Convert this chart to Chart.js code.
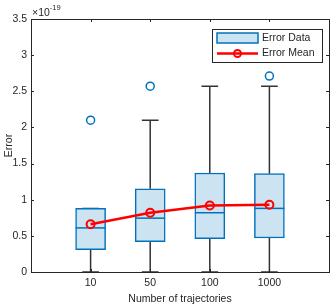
<!DOCTYPE html>
<html>
<head>
<meta charset="utf-8">
<script src="https://cdn.jsdelivr.net/npm/chart.js@4.4.0/dist/chart.umd.min.js"></script>
<style>
  html, body { margin: 0; padding: 0; background: #fff; }
  #wrap { width: 335px; height: 305px; }
</style>
</head>
<body>
<div id="wrap"><canvas id="boxchart"></canvas></div>
<script>
// values in units of 1e-19
var categories = ['10', '50', '100', '1000'];
var q1 = [0.31, 0.42, 0.46, 0.47];
var q3 = [0.88, 1.15, 1.37, 1.36];
var medians = [0.61, 0.745, 0.82, 0.88];
var whiskerLow = [0, 0, 0, 0];
var whiskerHigh = [0.88, 2.10, 2.57, 2.57];
var means = [0.66, 0.82, 0.92, 0.93];
var outliers = [[2.10], [2.57], [], [2.71]];
var yTicks = [0, 0.5, 1, 1.5, 2, 2.5, 3, 3.5];

var FONT = '"Liberation Sans", Arial, Helvetica, sans-serif';
var FS = 10.5;
var AXIS = '#262626';
var BLUE = '#0072BD';
var BOXFILL = '#cce3f2';

var boxData = categories.map(function (c, i) { return { x: i + 1, y: [q1[i], q3[i]] }; });
var meanData = categories.map(function (c, i) { return { x: i + 1, y: means[i] }; });
var outlierData = [];
outliers.forEach(function (list, i) {
    list.forEach(function (v) { outlierData.push({ x: i + 1, y: v }); });
});

// whiskers (under the boxes), medians (over), axes box, ticks, legend
var boxPlugin = {
    id: 'boxPlugin',
    beforeDatasetDraw: function (chart, args) {
        if (args.index !== 0) return;
        var ctx = chart.ctx, xs = chart.scales.x, ys = chart.scales.y, a = chart.chartArea;
        ctx.save();
        ctx.beginPath();
        ctx.rect(a.left, a.top, a.right - a.left, a.bottom - a.top);
        ctx.clip();
        ctx.strokeStyle = '#333333';
        ctx.lineWidth = 1.5;
        for (var i = 0; i < categories.length; i++) {
            var x = xs.getPixelForValue(i + 1);
            var capL = xs.getPixelForValue(i + 1 - 0.14), capR = xs.getPixelForValue(i + 1 + 0.14);
            ctx.beginPath();
            ctx.moveTo(x, ys.getPixelForValue(q3[i]));
            ctx.lineTo(x, ys.getPixelForValue(whiskerHigh[i]));
            ctx.moveTo(x, ys.getPixelForValue(q1[i]));
            ctx.lineTo(x, ys.getPixelForValue(whiskerLow[i]));
            ctx.moveTo(capL, ys.getPixelForValue(whiskerHigh[i]));
            ctx.lineTo(capR, ys.getPixelForValue(whiskerHigh[i]));
            ctx.moveTo(capL, ys.getPixelForValue(whiskerLow[i]));
            ctx.lineTo(capR, ys.getPixelForValue(whiskerLow[i]));
            ctx.stroke();
        }
        ctx.restore();
    },
    afterDatasetDraw: function (chart, args) {
        if (args.index !== 0) return;
        var ctx = chart.ctx, xs = chart.scales.x, ys = chart.scales.y;
        ctx.save();
        ctx.strokeStyle = BLUE;
        ctx.lineWidth = 1.5;
        for (var i = 0; i < categories.length; i++) {
            var bl = xs.getPixelForValue(i + 1 - 0.25), br = xs.getPixelForValue(i + 1 + 0.25);
            ctx.beginPath();
            ctx.moveTo(bl, ys.getPixelForValue(medians[i]));
            ctx.lineTo(br, ys.getPixelForValue(medians[i]));
            ctx.stroke();
        }
        ctx.restore();
    },
    afterDraw: function (chart) {
        var ctx = chart.ctx, a = chart.chartArea, xs = chart.scales.x, ys = chart.scales.y;
        ctx.save();
        // axes box
        ctx.strokeStyle = AXIS;
        ctx.lineWidth = 1;
        ctx.strokeRect(Math.round(a.left) + 0.5, Math.round(a.top) + 0.5,
            Math.round(a.right - a.left), Math.round(a.bottom - a.top));
        // inward ticks
        ctx.beginPath();
        for (var i = 0; i < categories.length; i++) {
            var x = Math.round(xs.getPixelForValue(i + 1)) + 0.5;
            ctx.moveTo(x, a.bottom); ctx.lineTo(x, a.bottom - 3);
            ctx.moveTo(x, a.top); ctx.lineTo(x, a.top + 3);
        }
        yTicks.forEach(function (v) {
            var y = Math.round(ys.getPixelForValue(v)) + 0.5;
            ctx.moveTo(a.left, y); ctx.lineTo(a.left + 3, y);
            ctx.moveTo(a.right, y); ctx.lineTo(a.right - 3, y);
        });
        ctx.stroke();
        // exponent
        ctx.fillStyle = AXIS;
        ctx.textBaseline = 'alphabetic';
        ctx.textAlign = 'left';
        ctx.font = FS + 'px ' + FONT;
        ctx.fillText('\u00d710', a.left + 1, a.top - 3);
        var w = ctx.measureText('\u00d710').width;
        ctx.font = '7.5px ' + FONT;
        ctx.fillText('-19', a.left + 1 + w, a.top - 9);
        // legend
        var lx = 212.5, ly = 29.5, lw = 110, lh = 33;
        ctx.fillStyle = '#fff';
        ctx.fillRect(lx, ly, lw, lh);
        ctx.strokeStyle = AXIS;
        ctx.lineWidth = 1;
        ctx.strokeRect(lx, ly, lw, lh);
        ctx.fillStyle = BOXFILL;
        ctx.fillRect(217, 33, 41, 10);
        ctx.strokeStyle = BLUE;
        ctx.lineWidth = 1.5;
        ctx.strokeRect(217, 33, 41, 10);
        ctx.strokeStyle = '#ff0000';
        ctx.lineWidth = 2.5;
        ctx.beginPath(); ctx.moveTo(217, 53.5); ctx.lineTo(258, 53.5); ctx.stroke();
        ctx.lineWidth = 2;
        ctx.beginPath(); ctx.arc(237.5, 53.5, 3.5, 0, Math.PI * 2); ctx.stroke();
        ctx.fillStyle = AXIS;
        ctx.font = FS + 'px ' + FONT;
        ctx.textBaseline = 'middle';
        ctx.fillText(chart.data.datasets[0].label, 262, 38.5);
        ctx.fillText(chart.data.datasets[1].label, 262, 53.5);
        ctx.restore();
    }
};

var ctx = document.getElementById('boxchart').getContext('2d');
var chart = new Chart(ctx, {
    type: 'bar',
    data: {
        datasets: [{
            type: 'bar',
            label: 'Error Data',
            data: boxData,
            backgroundColor: BOXFILL,
            borderColor: BLUE,
            borderWidth: 1.5,
            borderSkipped: false,
            barThickness: 30,
            order: 3
        }, {
            type: 'line',
            label: 'Error Mean',
            data: meanData,
            borderColor: '#ff0000',
            borderWidth: 2.5,
            pointRadius: 4,
            pointBorderWidth: 2,
            pointBackgroundColor: 'rgba(0,0,0,0)',
            pointBorderColor: '#ff0000',
            tension: 0,
            order: 1
        }, {
            type: 'scatter',
            label: 'Outliers',
            data: outlierData,
            pointRadius: 4,
            pointBorderWidth: 1.5,
            pointBorderColor: BLUE,
            pointBackgroundColor: 'rgba(0,0,0,0)',
            order: 2
        }]
    },
    options: {
        responsive: true,
        maintainAspectRatio: false,
        animation: false,
        layout: { padding: { top: 19, right: 6, left: 0, bottom: 0 } },
        plugins: {
            legend: { display: false },
            tooltip: { enabled: false }
        },
        scales: {
            x: {
                type: 'linear',
                min: 0,
                max: 5,
                offset: false,
                grid: { display: false, drawTicks: false },
                border: { display: false },
                afterBuildTicks: function (scale) {
                    scale.ticks = categories.map(function (c, i) { return { value: i + 1 }; });
                },
                ticks: {
                    autoSkip: false,
                    maxRotation: 0,
                    padding: 5,
                    color: AXIS,
                    font: { family: FONT, size: FS },
                    callback: function (v) { return categories[v - 1]; }
                },
                title: {
                    display: true,
                    text: 'Number of trajectories',
                    color: AXIS,
                    font: { family: FONT, size: FS },
                    padding: { top: 1, bottom: 0 }
                },
                afterFit: function (scale) { scale.height = 33; }
            },
            y: {
                min: 0,
                max: 3.5,
                grid: { display: false, drawTicks: false },
                border: { display: false },
                afterBuildTicks: function (scale) {
                    scale.ticks = yTicks.map(function (v) { return { value: v }; });
                },
                ticks: {
                    padding: 4,
                    color: AXIS,
                    font: { family: FONT, size: FS },
                    callback: function (v) { return String(v); }
                },
                title: {
                    display: true,
                    text: 'Error',
                    color: AXIS,
                    font: { family: FONT, size: FS },
                    padding: { top: 3, bottom: 0 }
                },
                afterFit: function (scale) { scale.width = 31; }
            }
        }
    },
    plugins: [boxPlugin]
});
</script>
</body>
</html>
